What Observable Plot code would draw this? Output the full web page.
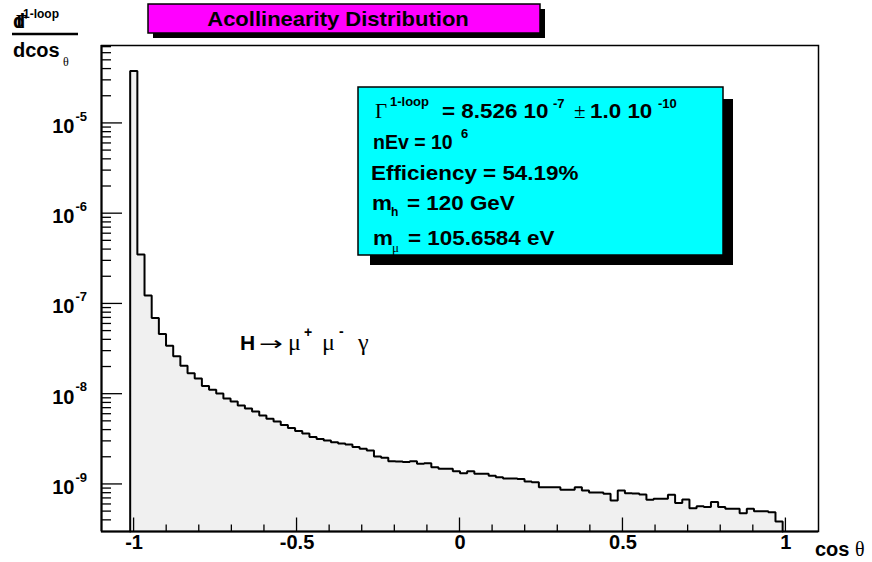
<!DOCTYPE html>
<html>
<head>
<meta charset="utf-8">
<script src="https://cdn.jsdelivr.net/npm/d3@7"></script>
<script src="https://cdn.jsdelivr.net/npm/@observablehq/plot@0.6"></script>
<style>
  html, body { margin: 0; padding: 0; background: #ffffff; }
  #chart { width: 872px; height: 562px; }
</style>
</head>
<body>
<div id="chart"></div>
<script>
// Histogram: 100 bins of width 0.022 over [-1.1, 1.1]; bins 4..94 are filled.
const axisRange = [-1.1, 1.1];
const binWidth = 0.022;
const firstFilledBin = 4;
const binContents = [
  3.80e-5, 3.54e-7, 1.24e-7, 6.99e-8, 4.65e-8, 3.44e-8, 2.63e-8, 2.06e-8, 1.71e-8, 1.49e-8,
  1.23e-8, 1.12e-8, 1.02e-8, 8.97e-9, 8.31e-9, 7.51e-9, 6.95e-9, 6.44e-9, 5.81e-9, 5.35e-9,
  4.99e-9, 4.56e-9, 4.23e-9, 3.92e-9, 3.67e-9, 3.36e-9, 3.19e-9, 3.07e-9, 2.94e-9, 2.85e-9,
  2.77e-9, 2.60e-9, 2.49e-9, 2.38e-9, 2.04e-9, 1.98e-9, 1.81e-9, 1.80e-9, 1.77e-9, 1.81e-9,
  1.70e-9, 1.72e-9, 1.55e-9, 1.49e-9, 1.49e-9, 1.40e-9, 1.33e-9, 1.40e-9, 1.31e-9, 1.31e-9,
  1.25e-9, 1.20e-9, 1.16e-9, 1.16e-9, 1.15e-9, 1.08e-9, 1.06e-9, 9.33e-10, 9.33e-10, 9.33e-10,
  8.74e-10, 8.74e-10, 9.33e-10, 8.58e-10, 8.15e-10, 8.15e-10, 7.89e-10, 6.65e-10, 8.58e-10, 8.01e-10,
  7.95e-10, 7.75e-10, 6.77e-10, 6.94e-10, 6.94e-10, 7.69e-10, 6.21e-10, 6.82e-10, 5.46e-10, 5.75e-10,
  5.61e-10, 6.37e-10, 5.61e-10, 5.38e-10, 5.38e-10, 4.81e-10, 5.38e-10, 5.06e-10, 5.06e-10, 4.93e-10,
  3.89e-10
];

// Log axis range
const yRange = [3.01e-10, 7.3e-5];

// Axis ticks and labels
const xMajorTicks = [-1, -0.5, 0, 0.5, 1];
const xTickLabels = ["-1", "-0.5", "0", "0.5", "1"];
const xMinorTicks = [-0.9, -0.8, -0.7, -0.6, -0.4, -0.3, -0.2, -0.1,
                     0.1, 0.2, 0.3, 0.4, 0.6, 0.7, 0.8, 0.9];
const yDecades = [1e-9, 1e-8, 1e-7, 1e-6, 1e-5];
const yExponents = ["-9", "-8", "-7", "-6", "-5"];
const yMinorMantissas = [2, 3, 4, 5, 6, 7, 8, 9];
const yMinorPowers = [-10, -9, -8, -7, -6, -5];

// Texts
const titleText = "Acollinearity Distribution";
const processLabel = ["H", "\u2192", "\u03bc", "+", "\u03bc", "-", "\u03b3"];

// Bin table
const bins = binContents.map((v, i) => {
  const x1 = axisRange[0] + (firstFilledBin + i) * binWidth;
  return {x1, x2: x1 + binWidth, v};
});
// Step outline: rises from the axis floor, follows each bin top, falls back down
const stepPoints = bins.flatMap(b => [{x: b.x1, y: b.v}, {x: b.x2, y: b.v}]);
const outline = [
  {x: bins[0].x1, y: yRange[0]},
  ...stepPoints,
  {x: bins[bins.length - 1].x2, y: yRange[0]}
];

const SANS = "'Liberation Sans', Arial, Helvetica, sans-serif";
const SERIF = "'Liberation Serif', 'Times New Roman', serif";
const DEJAVU = "'DejaVu Sans', sans-serif";

// Inward ROOT-style ticks, placed with the plot's own scales
function axisTicks(index, scales, values, dims) {
  const {x, y} = scales;
  const left = dims.marginLeft;
  const bottom = dims.height - dims.marginBottom;
  const g = d3.create("svg:g").attr("stroke", "#000").attr("stroke-width", 1.3).attr("fill", "none");
  for (const t of xMajorTicks)
    g.append("line").attr("x1", x(t)).attr("x2", x(t)).attr("y1", bottom).attr("y2", bottom - 13.5);
  for (const t of xMinorTicks)
    g.append("line").attr("x1", x(t)).attr("x2", x(t)).attr("y1", bottom).attr("y2", bottom - 6.5);
  for (const t of yDecades)
    g.append("line").attr("x1", left).attr("x2", left + 21).attr("y1", y(t)).attr("y2", y(t));
  for (const p of yMinorPowers) for (const m of yMinorMantissas) {
    const v = m * Math.pow(10, p);
    if (v <= yRange[0] || v >= yRange[1]) continue;
    g.append("line").attr("x1", left).attr("x2", left + 10).attr("y1", y(v)).attr("y2", y(v));
  }
  return g.node();
}

// Helper: one run of text at a pixel position, optionally stretched horizontally
function run(g, x, y, str, {size = 19.5, family = SANS, weight = "bold", sx = 1} = {}) {
  g.append("text")
    .attr("transform", `translate(${x},${y}) scale(${sx},1)`)
    .attr("text-anchor", "start")
    .attr("font-family", family)
    .attr("font-size", size)
    .attr("font-weight", weight)
    .attr("fill", "#000")
    .text(str);
}

// Title pave, statistics pave, axis titles and the process label
function annotations(index, scales, values, dims) {
  const g = d3.create("svg:g");

  // title pave with shadow
  g.append("rect").attr("x", 153).attr("y", 9).attr("width", 392).attr("height", 29).attr("fill", "#000");
  g.append("rect").attr("x", 148).attr("y", 4).attr("width", 392).attr("height", 29)
    .attr("fill", "#ff00ff").attr("stroke", "#000").attr("stroke-width", 1.5);
  g.append("text")
    .attr("transform", "translate(338,26) scale(1.1,1)")
    .attr("text-anchor", "middle")
    .attr("font-family", SANS).attr("font-size", 20).attr("font-weight", "bold")
    .text(titleText);

  // statistics pave with shadow
  g.append("rect").attr("x", 370).attr("y", 99).attr("width", 363).attr("height", 166).attr("fill", "#000");
  g.append("rect").attr("x", 358).attr("y", 87).attr("width", 365).attr("height", 168)
    .attr("fill", "#00ffff").attr("stroke", "#000").attr("stroke-width", 1.5);

  const sx = 1.15;
  run(g, 375, 118, "\u0393", {family: SERIF, weight: "normal", size: 21});
  run(g, 390, 106, "1-loop", {size: 13});
  run(g, 442, 118, "= 8.526 10", {sx});
  run(g, 553, 108, "-7", {size: 13});
  run(g, 574, 118, "\u00b1", {family: SERIF, weight: "normal", size: 21});
  run(g, 590, 118, "1.0 10", {sx});
  run(g, 658, 108, "-10", {size: 13});

  run(g, 373, 149, "nEv = 10", {sx: 1.0});
  run(g, 461, 138, "6", {size: 13});

  run(g, 371, 180, "Efficiency = 54.19%", {sx});

  run(g, 372, 210, "m", {sx});
  run(g, 391, 216, "h", {size: 12});
  run(g, 407, 210, "= 120 GeV", {sx});

  run(g, 373, 245, "m", {sx});
  run(g, 392, 252, "\u03bc", {family: SERIF, weight: "normal", size: 13});
  run(g, 408, 245, "= 105.6584 eV", {sx});

  // process label
  run(g, 240, 350, processLabel[0], {size: 21});
  run(g, 259, 350, processLabel[1], {family: DEJAVU, weight: "normal", size: 19, sx: 1.5});
  run(g, 288, 350, processLabel[2], {family: SERIF, weight: "normal", size: 24});
  run(g, 304, 337, processLabel[3], {size: 14});
  run(g, 322, 350, processLabel[4], {family: SERIF, weight: "normal", size: 24});
  run(g, 339, 336, processLabel[5], {size: 14});
  run(g, 358, 350, processLabel[6], {family: SERIF, weight: "normal", size: 24});

  // x-axis title
  run(g, 815, 556, "cos", {size: 20});
  run(g, 855, 556, "\u03b8", {family: SERIF, weight: "normal", size: 20});

  // y-axis title (fraction)
  run(g, 13, 28, "d", {size: 20});
  run(g, 16, 28, "\u0393", {family: SERIF, weight: "bold", size: 18});
  run(g, 23, 18, "1-loop", {size: 12});
  g.append("line").attr("x1", 12).attr("x2", 78).attr("y1", 34).attr("y2", 34)
    .attr("stroke", "#000").attr("stroke-width", 2.5);
  run(g, 13, 57, "dcos", {size: 20});
  run(g, 63, 66, "\u03b8", {family: SERIF, weight: "normal", size: 12});

  return g.node();
}

const chart = Plot.plot({
  width: 872,
  height: 562,
  marginLeft: 101,
  marginRight: 54,
  marginTop: 45,
  marginBottom: 31,
  style: {background: "#ffffff", overflow: "visible"},
  x: {domain: axisRange, axis: null},
  y: {type: "log", domain: yRange, axis: null},
  marks: [
    Plot.areaY(stepPoints, {x: "x", y1: () => yRange[0], y2: "y", fill: "#f0f0f0", curve: "linear"}),
    Plot.line(outline, {x: "x", y: "y", stroke: "#000", strokeWidth: 2, curve: "linear", strokeLinejoin: "miter"}),
    Plot.frame({stroke: "#000", strokeWidth: 1.5}),
    Plot.ruleX([axisRange[0]], {stroke: "#000", strokeWidth: 2}),
    Plot.ruleY([yRange[0]], {stroke: "#000", strokeWidth: 2}),
    axisTicks,
    Plot.text(xMajorTicks, {
      x: d => d, text: (d, i) => xTickLabels[i], frameAnchor: "bottom", dy: 17.5,
      fontSize: 20, fontWeight: "bold", fontFamily: SANS, fill: "#000"
    }),
    Plot.text(yDecades, {
      y: d => d, text: () => "10", frameAnchor: "left", dx: -27, dy: 3, textAnchor: "end",
      fontSize: 20, fontWeight: "bold", fontFamily: SANS, fill: "#000"
    }),
    Plot.text(yDecades, {
      y: d => d, text: (d, i) => yExponents[i], frameAnchor: "left", dx: -26, dy: -7, textAnchor: "start",
      fontSize: 13, fontWeight: "bold", fontFamily: SANS, fill: "#000"
    }),
    annotations
  ]
});

document.getElementById("chart").appendChild(chart);
</script>
</body>
</html>
